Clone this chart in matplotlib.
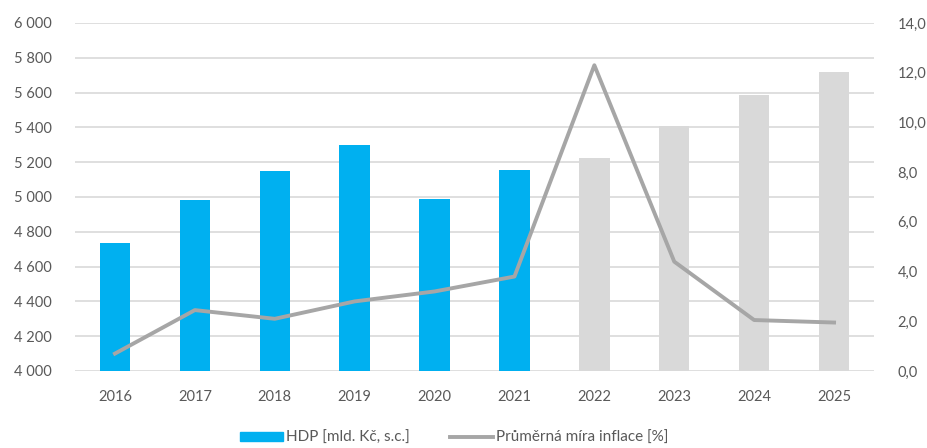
import matplotlib.pyplot as plt
from matplotlib.ticker import FuncFormatter
from matplotlib.patches import Patch
from matplotlib.lines import Line2D

######################
## data
years = ['2016', '2017', '2018', '2019', '2020', '2021', '2022', '2023', '2024', '2025']
hdp = [4738, 4982, 5147, 5297, 4990, 5157, 5222, 5406, 5585, 5717]
inflace = [0.7, 2.45, 2.1, 2.8, 3.2, 3.8, 12.3, 4.4, 2.05, 1.95]
n_actual = 6  # first 6 years are actual, the rest forecast

######################
## styling
blue = '#00b0f0'
light_gray = '#d9d9d9'
line_gray = '#a6a6a6'
text_color = '#595959'

plt.rcParams['font.family'] = ['Lato', 'DejaVu Sans']

fig = plt.figure(figsize=(9.27, 4.48), dpi=100)
ax = fig.add_axes([75 / 927, 1 - 371 / 448, 799 / 927, 348 / 448])
ax2 = ax.twinx()

x = list(range(len(years)))
bar_colors = [blue if i < n_actual else light_gray for i in x]
ax.bar(x, hdp, width=0.38, color=bar_colors, zorder=2)

ax.set_ylim(4000, 6000)
ax.set_yticks(range(4000, 6001, 200))
ax.yaxis.set_major_formatter(FuncFormatter(lambda v, p: '{:,.0f}'.format(v).replace(',', ' ')))
ax.set_xlim(-0.5, len(years) - 0.5)
ax.set_xticks(x)
ax.set_xticklabels(years)
ax.grid(axis='y', color=light_gray, linewidth=1.2, zorder=0)
ax.set_axisbelow(True)

ax2.plot(x, inflace, color=line_gray, linewidth=2.8, zorder=3)
ax2.set_ylim(0, 14)
ax2.set_yticks(range(0, 15, 2))
ax2.yaxis.set_major_formatter(FuncFormatter(lambda v, p: '{:.1f}'.format(v).replace('.', ',')))

for a in (ax, ax2):
    for s in a.spines.values():
        s.set_visible(False)
    a.tick_params(length=0, colors=text_color, labelsize=10.5)
ax.tick_params(axis='y', pad=17)
ax.tick_params(axis='x', pad=14)
ax2.tick_params(axis='y', pad=17)

# legend
handles = [Patch(color=blue), Line2D([0], [0], color=line_gray, linewidth=2.8)]
fig.legend(handles, ['HDP [mld. Kč, s.c.]', 'Průměrná míra inflace [%]'],
           loc='center', bbox_to_anchor=(0.49, 1 - 438 / 448), ncol=2, frameon=False,
           fontsize=11, labelcolor=text_color, handlelength=2.8, handleheight=0.6,
           handletextpad=0.2, columnspacing=2.6)

plt.savefig('out.png', dpi=100)
plt.close()
